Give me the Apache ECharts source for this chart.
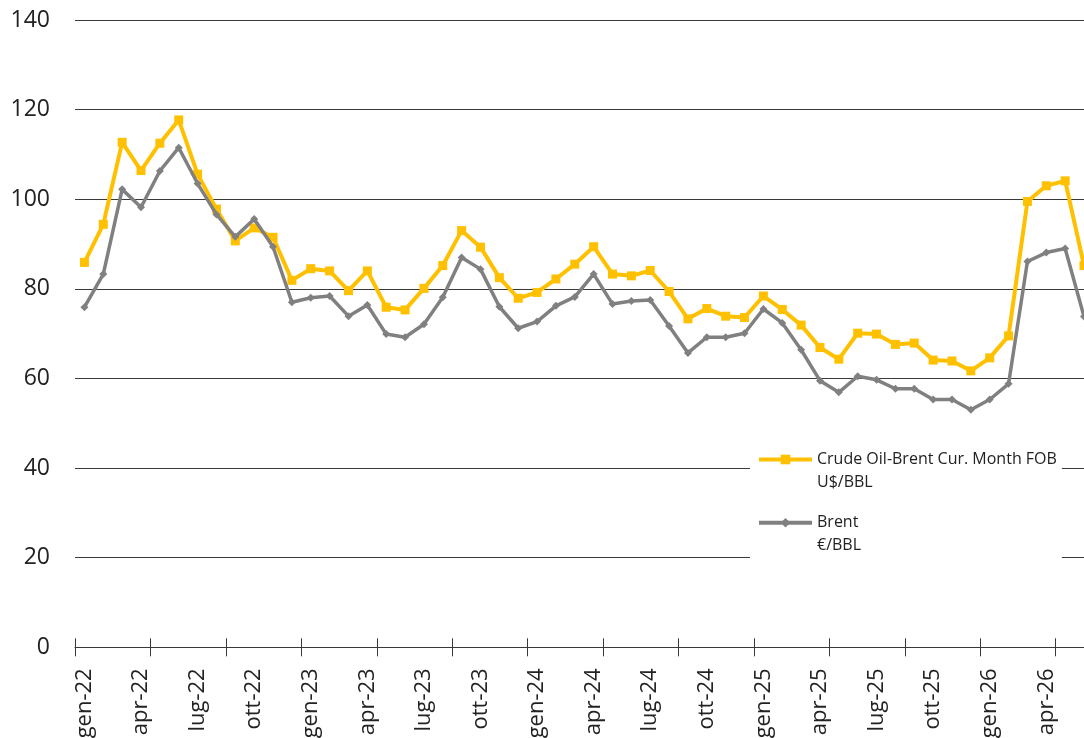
<!DOCTYPE html>
<html>
<head>
<meta charset="utf-8">
<script src="https://cdn.jsdelivr.net/npm/echarts@6/dist/echarts.min.js"></script>
<style>
html,body{margin:0;padding:0;background:#fff;}
#chart{width:1084px;height:738px;}
</style>
</head>
<body>
<div id="chart"></div>
<script>
const categories = [
 'gen-22','feb-22','mar-22','apr-22','mag-22','giu-22','lug-22','ago-22','set-22','ott-22','nov-22','dic-22',
 'gen-23','feb-23','mar-23','apr-23','mag-23','giu-23','lug-23','ago-23','set-23','ott-23','nov-23','dic-23',
 'gen-24','feb-24','mar-24','apr-24','mag-24','giu-24','lug-24','ago-24','set-24','ott-24','nov-24','dic-24',
 'gen-25','feb-25','mar-25','apr-25','mag-25','giu-25','lug-25','ago-25','set-25','ott-25','nov-25','dic-25',
 'gen-26','feb-26','mar-26','apr-26','mag-26','giu-26'
];
const brentUsd = [85.9, 94.4, 112.7, 106.4, 112.5, 117.7, 105.6, 97.8, 90.7, 93.6, 91.5, 81.9,
 84.5, 84.0, 79.6, 84.0, 75.9, 75.3, 80.1, 85.2, 93.0, 89.3, 82.5, 77.9,
 79.2, 82.2, 85.5, 89.4, 83.3, 82.9, 84.1, 79.4, 73.3, 75.6, 73.9, 73.6,
 78.4, 75.4, 71.9, 66.9, 64.3, 70.1, 69.9, 67.6, 67.9, 64.1, 63.9, 61.7,
 64.6, 69.5, 99.5, 103.0, 104.1, 85.2];
const brentEur = [75.9, 83.3, 102.2, 98.2, 106.3, 111.5, 103.5, 96.6, 91.6, 95.6, 89.4, 77.0,
 78.0, 78.4, 73.9, 76.4, 69.9, 69.2, 72.1, 78.1, 87.0, 84.4, 76.0, 71.2,
 72.7, 76.2, 78.2, 83.3, 76.6, 77.3, 77.5, 71.7, 65.7, 69.2, 69.2, 70.1,
 75.5, 72.4, 66.4, 59.5, 56.9, 60.5, 59.7, 57.7, 57.7, 55.3, 55.3, 53.0,
 55.3, 58.8, 86.1, 88.1, 89.0, 73.8];
const seriesNames = ['Crude Oil-Brent Cur. Month FOB\nU$/BBL', 'Brent\n€/BBL'];

const FONT = '"Segoe UI","Open Sans","Noto Sans",sans-serif';
const TXT = '#222';
const LINE = '#3a3a3a';

const chart = echarts.init(document.getElementById('chart'), null, {renderer:'canvas'});
chart.setOption({
  animation:false,
  backgroundColor:'#fff',
  grid:{left:75, top:20, width:54*18.86, height:627.3, containLabel:false, outerBoundsMode:'none'},
  legend:{
    orient:'vertical', left:750, top:420,
    padding:[5,5,12,7],
    backgroundColor:'#fff',
    itemWidth:53, itemHeight:12, itemGap:-5.7,
    data:seriesNames,
    formatter: name => '\n' + name,
    lineStyle:{width:4},
    textStyle:{fontFamily:FONT, fontSize:16, color:TXT, lineHeight:23}
  },
  xAxis:[{
    type:'category', data:categories, boundaryGap:true, position:'bottom',
    axisLine:{show:true, lineStyle:{color:LINE, width:1}},
    axisTick:{show:true, interval:3, length:9, lineStyle:{color:LINE, width:1}},
    axisLabel:{interval:2, rotate:90, margin:21, fontFamily:FONT, fontSize:22, color:TXT},
    splitLine:{show:false}
  },{
    type:'category', data:categories, boundaryGap:true, position:'bottom',
    axisLine:{show:false},
    axisTick:{show:true, inside:true, interval:3, length:9, lineStyle:{color:LINE, width:1}},
    axisLabel:{show:false},
    splitLine:{show:false}
  }],
  yAxis:{
    type:'value', min:0, max:140, interval:20,
    axisLine:{show:false}, axisTick:{show:false},
    axisLabel:{margin:25, fontFamily:FONT, fontSize:23, color:TXT},
    splitLine:{show:true, lineStyle:{color:LINE, width:1}}
  },
  series:[{
    name:seriesNames[0], type:'line', data:brentUsd, xAxisIndex:0,
    symbol:'rect', symbolSize:9, showAllSymbol:true,
    lineStyle:{color:'#FFC000', width:4},
    itemStyle:{color:'#FFC000'}, z:2
  },{
    name:seriesNames[1], type:'line', data:brentEur, xAxisIndex:0,
    symbol:'diamond', symbolSize:8, showAllSymbol:true,
    lineStyle:{color:'#808080', width:3.5},
    itemStyle:{color:'#808080'}, z:3
  }]
});
</script>
</body>
</html>
